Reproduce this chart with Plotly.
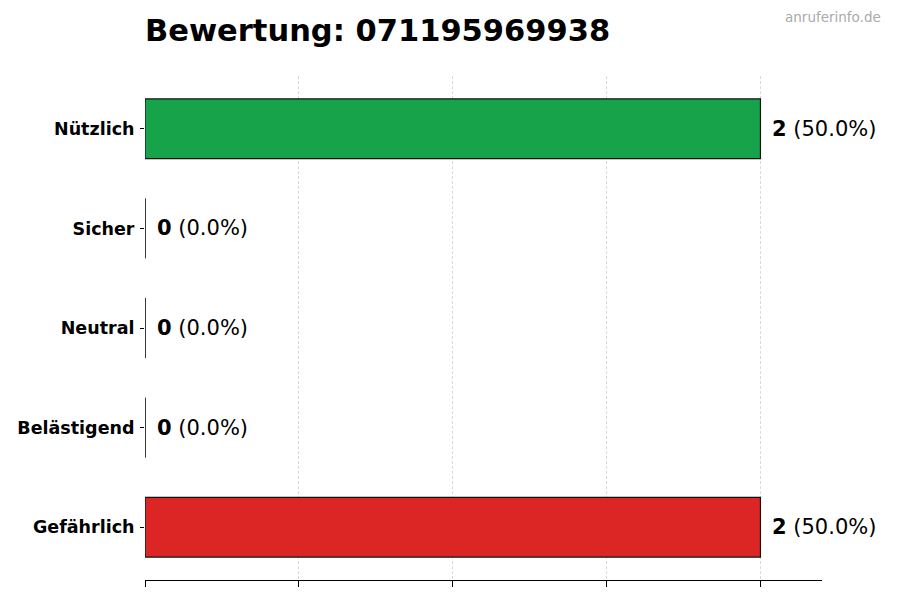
import plotly.graph_objects as go

categories = ["Nützlich", "Sicher", "Neutral", "Belästigend", "Gefährlich"]
counts = [2, 0, 0, 0, 2]
colors = ["#16a34a", "#22c55e", "#9ca3af", "#f97316", "#dc2626"]
title_text = "Bewertung: 071195969938"
watermark = "anruferinfo.de"
x_ticks = [0, 0.5, 1.0, 1.5, 2.0]

FONT = "DejaVu Sans"
n = len(categories)
positions = [n - 1 - i for i in range(n)]
total = sum(counts)
bar_w = 0.6

W, H = 900, 600
ML, MR, MT, MB = 145, 78, 76, 20

fig = go.Figure()
fig.add_trace(go.Bar(
    x=counts, y=positions, orientation="h", width=bar_w,
    marker=dict(color=colors, line=dict(color="#111111", width=1.2)),
    hoverinfo="skip", showlegend=False,
))

# edge line for zero-valued bars (matplotlib draws the outline)
for v, p in zip(counts, positions):
    if v == 0:
        fig.add_trace(go.Scatter(
            x=[v, v], y=[p - bar_w / 2, p + bar_w / 2], mode="lines",
            line=dict(color="#111111", width=1.2), showlegend=False, hoverinfo="skip",
        ))

annotations = []
for v, p in zip(counts, positions):
    pct = v / total * 100 if total else 0
    annotations.append(dict(
        x=v, y=p, xref="x", yref="y", xanchor="left", yanchor="middle",
        xshift=10, showarrow=False,
        text=f"<b>{v}</b> ({pct:.1f}%)",
        font=dict(family=FONT, size=21, color="#000000"),
    ))

annotations.append(dict(
    xref="paper", yref="paper", showarrow=False,
    x=(883 - ML) / (W - ML - MR), xanchor="right",
    y=(H - MB - 17) / (H - MT - MB), yanchor="middle",
    text=watermark, font=dict(family=FONT, size=13.5, color="#aaaaaa"),
))

fig.update_layout(
    width=W, height=H,
    margin=dict(l=ML, r=MR, t=MT, b=MB),
    paper_bgcolor="white", plot_bgcolor="white",
    title=dict(text=f"<b>{title_text}</b>", xref="container", yref="container",
               x=ML / W, xanchor="left",
               y=1 - 30 / H, yanchor="middle",
               font=dict(family=FONT, size=30.5, color="#000000")),
    xaxis=dict(range=[0, 2.2], tickvals=x_ticks, showticklabels=False,
               ticks="outside", ticklen=6, tickcolor="#000000", tickwidth=1.2,
               showline=True, linecolor="#000000", linewidth=1.2,
               showgrid=True, gridcolor="#d9d9d9", griddash="3px,2px", gridwidth=1,
               zeroline=False, layer="above traces", fixedrange=True),
    yaxis=dict(range=[-0.53, n - 1 + 0.53], tickvals=positions,
               ticktext=[f"<b>{c}</b>" for c in categories],
               tickfont=dict(family=FONT, size=17.5, color="#000000"),
               ticks="outside", ticklen=4, tickcolor="#000000",
               ticklabelstandoff=2,
               showline=False, showgrid=False, zeroline=False, fixedrange=True),
    annotations=annotations,
)

fig.write_html("out.html", config={"displayModeBar": False},
               post_script="document.body.style.margin='0';document.body.style.overflow='hidden';")
